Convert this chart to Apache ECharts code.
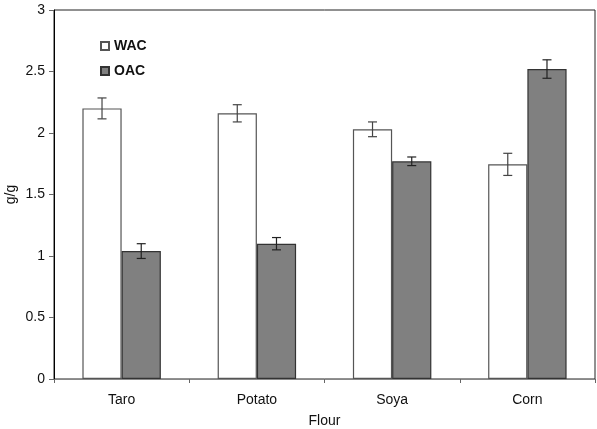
<!DOCTYPE html>
<html><head><meta charset="utf-8">
<script src="https://cdn.jsdelivr.net/npm/echarts@6/dist/echarts.min.js"></script>
<style>html,body{margin:0;padding:0;background:#fff}#c{width:597px;height:429px}</style>
</head><body><div id="c"></div>
<script>
var categories = ['Taro', 'Potato', 'Soya', 'Corn'];
var wac = [2.20, 2.16, 2.03, 1.745];
var wacErr = [0.085, 0.07, 0.06, 0.09];
var oac = [1.04, 1.10, 1.77, 2.52];
var oacErr = [0.06, 0.05, 0.035, 0.075];
var yTicks = [0, 0.5, 1, 1.5, 2, 2.5, 3];

var GAP = 0.42;
function errSeries(name, vals, errs, idx, color) {
  return {
    type: 'custom', name: name + ' err', silent: true, z: 10,
    data: vals.map(function (v, i) { return [i, v, errs[i]]; }),
    renderItem: function (params, api) {
      var ci = api.value(0), v = api.value(1), e = api.value(2);
      var band = api.size([1, 0])[0];
      var bw = band * (1 - GAP) / 2;
      var c = api.coord([ci, v]);
      var x = c[0] + (idx === 0 ? -bw / 2 : bw / 2);
      var yt = api.coord([ci, v + e])[1];
      var yb = api.coord([ci, v - e])[1];
      var cap = 4.5;
      var st = { stroke: color, lineWidth: 1.2 };
      return { type: 'group', children: [
        { type: 'line', shape: { x1: x, y1: yt, x2: x, y2: yb }, style: st },
        { type: 'line', shape: { x1: x - cap, y1: yt, x2: x + cap, y2: yt }, style: st },
        { type: 'line', shape: { x1: x - cap, y1: yb, x2: x + cap, y2: yb }, style: st }
      ]};
    }
  };
}

var chart = echarts.init(document.getElementById('c'));
chart.setOption({
  animation: false,
  textStyle: { fontFamily: 'Liberation Sans, Arial, sans-serif' },
  grid: { left: 54, right: 2, top: 10, bottom: 50, containLabel: false, outerBoundsMode: 'none',
    show: true, borderColor: '#222', borderWidth: 1, backgroundColor: 'transparent' },
  legend: {
    orient: 'vertical', left: 100, top: 39, padding: 0, itemWidth: 8, itemHeight: 8, itemGap: 11,
    data: ['WAC', 'OAC'],
    textStyle: { fontSize: 14, fontWeight: 'bold', color: '#111', padding: [0, 0, 0, 0] },
    icon: 'rect'
  },
  xAxis: {
    type: 'category', data: categories,
    name: 'Flour', nameLocation: 'middle', nameGap: 35, nameMoveOverlap: false,
    nameTextStyle: { fontSize: 14, color: '#111' },
    axisLine: { lineStyle: { color: '#888', width: 1 } },
    axisTick: { show: true, length: 4, lineStyle: { color: '#666' } },
    axisLabel: { fontSize: 14, color: '#111', margin: 14 }
  },
  yAxis: {
    type: 'value', min: 0, max: 3, interval: 0.5,
    name: 'g/g', nameLocation: 'middle', nameGap: 36, nameMoveOverlap: false,
    nameTextStyle: { fontSize: 14, color: '#111' },
    axisLine: { show: true, lineStyle: { color: '#000', width: 1 } },
    axisTick: { show: true, length: 5, lineStyle: { color: '#666' } },
    axisLabel: { fontSize: 14, color: '#111', margin: 9,
      customValues: yTicks,
      formatter: function (v) { return String(v); } },
    splitLine: { show: false }
  },
  series: [
    { name: 'WAC', type: 'bar', data: wac, barGap: '0%', barCategoryGap: (GAP * 100) + '%',
      itemStyle: { color: '#fff', borderColor: '#555', borderWidth: 1.2 } },
    { name: 'OAC', type: 'bar', data: oac,
      itemStyle: { color: '#808080', borderColor: '#333', borderWidth: 1.2 } },
    errSeries('WAC', wac, wacErr, 0, '#444'),
    errSeries('OAC', oac, oacErr, 1, '#222')
  ]
});
</script></body></html>
